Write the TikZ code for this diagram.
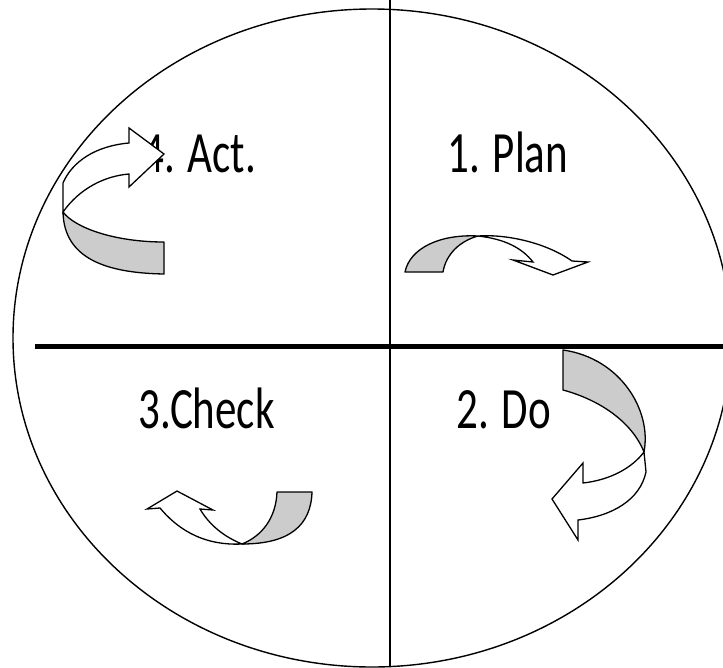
\documentclass[tikz,border=0pt]{standalone}
\usepackage{fontspec}
\usepackage{tikz}
\newfontfamily\pdcafont[FakeStretch=0.735]{Carlito}
\definecolor{bandgray}{HTML}{CCCCCC}

\begin{document}
\begin{tikzpicture}[x=1pt, y=-1pt,
    lbl/.style={font=\pdcafont\fontsize{58.5}{60}\selectfont, anchor=base west, inner sep=0pt},
    band/.style={draw=black, line width=1.3pt, fill=bandgray, line join=round},
    turn/.style={draw=black, line width=1.3pt, fill=white, line join=miter},
    rim/.style={draw=black, line width=1.4pt},
]
    \path[clip] (0,0) rectangle (723,667);

    % === labels ===
    \node[lbl] (plan) at (447,172) {1. Plan};
    \node[lbl] (do) at (456,428) {2. Do};
    \node[lbl] (check) at (138,428) {3.Check};
    \node[lbl] (act) at (142,172) {4. Act.};

    % === act arrow ===
    \path[band] (164,242) -- (164,274) .. controls (105,273) and (64,258) .. (63,212)
        .. controls (75,228) and (115,242) .. (164,242) -- cycle;
    \path[turn] (63,212) -- (63,183) .. controls (72,162) and (95,146) .. (129,143)
        -- (129,128) -- (164,154) -- (129,187) -- (129,174)
        .. controls (105,176) and (80,188) .. (63,212) -- cycle;

    % === plan arrow ===
    \path[band] (405,272) .. controls (410,248) and (440,234) .. (478,236)
        .. controls (460,241) and (446,254) .. (443,272) -- cycle;
    \path[turn] (478,236) .. controls (505,234) and (545,242) .. (572,261)
        -- (588,262) -- (553,275) -- (513,260) -- (533,262)
        .. controls (522,248) and (505,239) .. (478,236) -- cycle;

    % === do arrow ===
    \path[band] (563,350) -- (563,390) .. controls (600,400) and (632,422) .. (644,452)
        .. controls (652,410) and (620,358) .. (563,350) -- cycle;
    \path[turn] (644,452) -- (646,472) .. controls (640,500) and (612,516) .. (578,520)
        -- (578,540) -- (552,499) -- (583,463) -- (583,483)
        .. controls (610,480) and (632,468) .. (644,452) -- cycle;

    % === check arrow ===
    \path[band] (277,492) -- (312,492) .. controls (311,525) and (290,544) .. (242,544)
        .. controls (262,536) and (276,518) .. (277,492) -- cycle;
    \path[turn] (242,544) .. controls (200,546) and (175,526) .. (160,508)
        -- (147,509) -- (177,491) -- (213,510) -- (200,509)
        .. controls (210,526) and (225,537) .. (242,544) -- cycle;

    % circle and cross
    \path[rim] (372,338) ellipse [x radius=359, y radius=329];
    \draw[line width=2pt] (390,0) -- (390,667);
    \shade[left color=black, middle color=gray!70, right color=black] (35,344.5) rectangle (723,348.5);
\end{tikzpicture}
\end{document}
